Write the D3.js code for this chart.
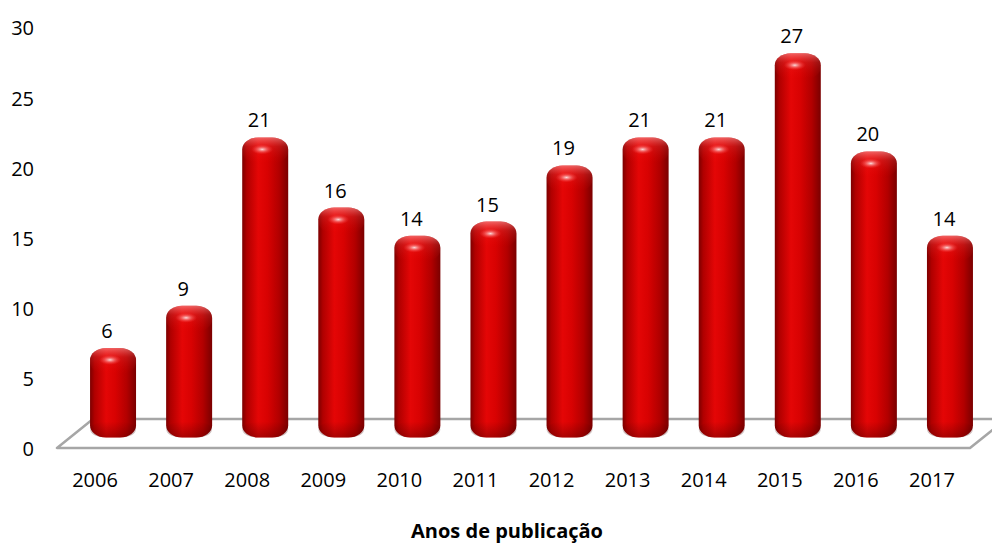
<!DOCTYPE html>
<html>
<head>
<meta charset="utf-8">
<script src="https://cdn.jsdelivr.net/npm/d3@7"></script>
<style>
  body { margin: 0; background: #fff; }
  svg text { font-family: "Open Sans", "Noto Sans", sans-serif; fill: #000; }
</style>
</head>
<body>
<svg id="chart" width="992" height="543"></svg>
<script>
// Publications per year
const years  = ["2006", "2007", "2008", "2009", "2010", "2011", "2012", "2013", "2014", "2015", "2016", "2017"];
const counts = [6, 9, 21, 16, 14, 15, 19, 21, 21, 27, 20, 14];
const yTicks = [0, 5, 10, 15, 20, 25, 30];
const axisTitle = "Anos de publicação";

const svg = d3.select("#chart");

// floor parallelogram geometry (front edge + receding depth)
const floorY = 448, depthX = 36, depthY = -29;
const x = d3.scaleBand().domain(years).range([57, 970]);
const y = d3.scaleLinear().domain([0, 30]).range([449.5, 28.5]);

const defs = svg.append("defs");
const body = defs.append("linearGradient").attr("id", "cyl").attr("x1", 0).attr("x2", 1).attr("y1", 0).attr("y2", 0);
[[0, "#7c0000"], [0.1, "#b00000"], [0.35, "#e40606"], [0.55, "#d80202"], [0.8, "#b20000"], [1, "#7a0000"]]
  .forEach(([o, c]) => body.append("stop").attr("offset", o).attr("stop-color", c));

const lid = defs.append("linearGradient").attr("id", "lid").attr("x1", 0).attr("x2", 0).attr("y1", 0).attr("y2", 1);
[[0, "#ffb0b0", 0.55], [0.35, "#ff6060", 0.2], [1, "#ff0000", 0]]
  .forEach(([o, c, a]) => lid.append("stop").attr("offset", o).attr("stop-color", c).attr("stop-opacity", a));

const foot = defs.append("linearGradient").attr("id", "foot").attr("x1", 0).attr("x2", 0).attr("y1", 0).attr("y2", 1);
[[0, "#400000", 0], [1, "#400000", 0.35]]
  .forEach(([o, c, a]) => foot.append("stop").attr("offset", o).attr("stop-color", c).attr("stop-opacity", a));

const glint = defs.append("radialGradient").attr("id", "glint");
[[0, "#ffffff", 0.85], [0.5, "#ff9090", 0.45], [1, "#ff4040", 0]]
  .forEach(([o, c, a]) => glint.append("stop").attr("offset", o).attr("stop-color", c).attr("stop-opacity", a));

// floor
const x0 = x.range()[0], x1 = x.range()[1];
svg.append("polygon")
  .attr("points", [[x0, floorY], [x1, floorY], [x1 + depthX, floorY + depthY], [x0 + depthX, floorY + depthY]].join(" "))
  .attr("fill", "#fff")
  .attr("stroke", "#a6a6a6")
  .attr("stroke-width", 2.5)
  .attr("stroke-linejoin", "round");

// bars
const barW = 46, lift = -depthY * 0.6, footExt = 5.5;
const data = years.map((yr, i) => ({ yr, v: counts[i] }));
const barCx = d => x(d.yr) + x.bandwidth() / 2 + depthX / 2;
const barTop = d => y(d.v) - lift;
const barBottom = () => y(0) - lift + footExt;

const bars = svg.append("g").selectAll("g").data(data).join("g");
bars.append("rect")
  .attr("x", d => barCx(d) - barW / 2).attr("width", barW)
  .attr("y", barTop).attr("height", d => barBottom() - barTop(d))
  .attr("rx", 16).attr("ry", 12)
  .attr("fill", "url(#cyl)");
bars.append("rect")
  .attr("x", d => barCx(d) - barW / 2).attr("width", barW)
  .attr("y", barTop).attr("height", 26)
  .attr("rx", 16).attr("ry", 12)
  .attr("fill", "url(#lid)");
bars.append("rect")
  .attr("x", d => barCx(d) - barW / 2).attr("width", barW)
  .attr("y", () => barBottom() - 16).attr("height", 16)
  .attr("rx", 16).attr("ry", 12)
  .attr("fill", "url(#foot)");
bars.append("ellipse")
  .attr("cx", d => barCx(d) - 3).attr("cy", d => barTop(d) + 12)
  .attr("rx", 11).attr("ry", 5)
  .attr("fill", "url(#glint)");

// value labels
bars.append("text")
  .attr("x", d => barCx(d) - 6)
  .attr("y", d => barTop(d) - 10)
  .attr("text-anchor", "middle")
  .attr("font-size", 20)
  .text(d => d.v);

// value axis
const yAxis = svg.append("g")
  .attr("transform", "translate(34,0)")
  .call(d3.axisLeft(y).tickValues(yTicks).tickSize(0).tickPadding(0));
yAxis.select(".domain").remove();
yAxis.selectAll("text").attr("font-size", 20).attr("font-family", "Open Sans").attr("fill", "#000");

// category axis
const xAxis = svg.append("g")
  .attr("transform", "translate(0,480)")
  .call(d3.axisBottom(x).tickSize(0).tickPadding(0));
xAxis.select(".domain").remove();
xAxis.selectAll("text").attr("y", 0).attr("dy", "0.35em")
  .attr("font-size", 20).attr("font-family", "Open Sans").attr("fill", "#000");

// axis title
svg.append("text")
  .attr("x", 507).attr("y", 538)
  .attr("text-anchor", "middle")
  .attr("font-size", 20)
  .attr("font-weight", "bold")
  .text(axisTitle);
</script>
</body>
</html>
